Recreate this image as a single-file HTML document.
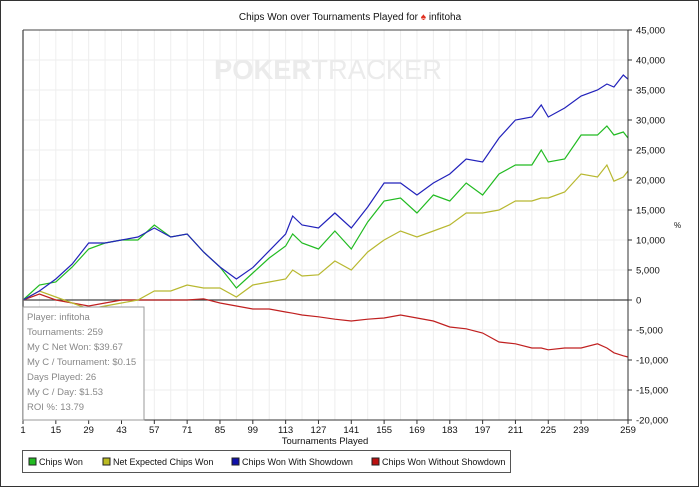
<!DOCTYPE html>
<html><head><meta charset="utf-8"><style>
body{margin:0;background:#fff;}
svg text{font-family:"Liberation Sans",Arial,sans-serif;}
</style></head><body>
<svg id="chart" width="700" height="488" xmlns="http://www.w3.org/2000/svg">
<rect x="0.5" y="0.5" width="698" height="486" fill="#fff" stroke="#333"/>
<text x="350" y="20" font-size="10" text-anchor="middle" fill="#111">Chips Won over Tournaments Played for <tspan fill="#e03020">♠</tspan> infitoha</text>
<g id="grid"></g>
<text x="328" y="79" font-size="28" font-weight="bold" text-anchor="middle" fill="#ebebeb" textLength="228" lengthAdjust="spacingAndGlyphs">POKER<tspan font-weight="normal">TRACKER</tspan></text>
<g id="series"></g>
<g id="axes"></g>
<text x="674" y="228" font-size="8" fill="#111">%</text>
<text x="325" y="444" font-size="9.5" text-anchor="middle" fill="#111">Tournaments Played</text>
<g>
<rect x="23" y="307" width="121" height="113" fill="#fff" stroke="#999"/>
<g font-size="9.5" fill="#888">
<text x="27" y="320">Player: infitoha</text>
<text x="27" y="335">Tournaments: 259</text>
<text x="27" y="350">My C Net Won: $39.67</text>
<text x="27" y="365">My C / Tournament: $0.15</text>
<text x="27" y="380">Days Played: 26</text>
<text x="27" y="395">My C / Day: $1.53</text>
<text x="27" y="410">ROI %: 13.79</text>
</g></g>
<g>
<rect x="22.5" y="450.5" width="488" height="22" fill="#fff" stroke="#555"/>
<g font-size="9" fill="#111">
<g><rect x="29" y="458" width="7" height="7" fill="#22bb22" stroke="#222"/><text x="39" y="465">Chips Won</text></g>
<g><rect x="103" y="458" width="7" height="7" fill="#bbbb22" stroke="#222"/><text x="113" y="465">Net Expected Chips Won</text></g>
<g><rect x="232" y="458" width="7" height="7" fill="#1111aa" stroke="#222"/><text x="242" y="465">Chips Won With Showdown</text></g>
<g><rect x="372" y="458" width="7" height="7" fill="#bb1111" stroke="#222"/><text x="382" y="465">Chips Won Without Showdown</text></g>
</g></g>
</svg>
<script>
const tournaments=[1,8,15,22,29,36,43,50,57,64,71,78,85,92,99,106,113,116,120,127,134,141,148,155,162,169,176,183,190,197,204,211,218,222,225,232,239,246,250,253,257,259];
const withShowdown=[0,1.5,3.5,6,9.5,9.5,10,10.5,12,10.5,11,8,5.5,3.5,5.4,8.2,11,14,12.5,12,14.5,12,15.5,19.5,19.5,17.5,19.5,21,23.5,23,27,30,30.5,32.5,30.5,32,34,35,36,35.5,37.5,36.8];
const chipsWon=[0,2.5,3,5.5,8.5,9.5,10,10,12.5,10.5,11,8,5.5,2,4.5,7,9,11,9.5,8.5,11.5,8.5,13,16.5,17,14.5,17.5,16.5,19.5,17.5,21,22.5,22.5,25,23,23.5,27.5,27.5,29,27.5,28,27];
const netExpected=[0,1.5,0.5,-0.5,-1.5,-1,-0.5,0,1.5,1.5,2.5,2,2,0.5,2.5,3,3.5,5,4,4.2,6.5,5,8,10,11.5,10.5,11.5,12.5,14.5,14.5,15,16.5,16.5,17,17,18,21,20.5,22.5,19.8,20.5,21.5];
const withoutShowdown=[0,1,0,-0.5,-1,-0.5,0,0,0,0,0,0.2,-0.5,-1,-1.5,-1.5,-2,-2.2,-2.5,-2.8,-3.2,-3.5,-3.2,-3,-2.5,-3,-3.5,-4.5,-4.8,-5.5,-7,-7.3,-8,-8,-8.3,-8,-8,-7.3,-8,-8.8,-9.3,-9.5];
const xTicks=[1,15,29,43,57,71,85,99,113,127,141,155,169,183,197,211,225,239,259];
const yTicks=[45,40,35,30,25,20,15,10,5,0,-5,-10,-15,-20];
const X0=23,X1=628,Y0=30,Y1=420;
const xs=t=>X0+(t-1)/(259-1)*(X1-X0);
const ys=v=>Y0+(45-v)/(65)*(Y1-Y0);
const NS="http://www.w3.org/2000/svg";
function mk(tag,attrs,parent){const e=document.createElementNS(NS,tag);for(const k in attrs)e.setAttribute(k,attrs[k]);parent.appendChild(e);return e;}
const grid=document.getElementById('grid'),axes=document.getElementById('axes'),ser=document.getElementById('series');
for(let t=1;t<=259;t+=7){const g=mk('line',{x1:xs(t),x2:xs(t),y1:Y0,y2:Y1,stroke:'#eeeeee'},grid);

}
yTicks.forEach(v=>{const g=mk('line',{x1:X0,x2:X1,y1:ys(v),y2:ys(v),stroke:v===0?'#444':'#eeeeee','stroke-width':v===0?1.3:1},grid);


const tk=mk('line',{x1:X1,x2:X1+4,y1:ys(v),y2:ys(v),stroke:'#333'},axes);


const lb=mk('text',{x:X1+8,y:ys(v)+3.5,'font-size':9.5,fill:'#111'},axes);
lb.textContent=(v*1000).toLocaleString('en-US');

});
mk('line',{x1:X0,x2:X0,y1:Y0,y2:Y1,stroke:'#666','stroke-width':1.5},axes);
mk('line',{x1:X0,x2:X1,y1:Y0,y2:Y0,stroke:'#444'},axes);
mk('line',{x1:X1,x2:X1,y1:Y0,y2:Y1,stroke:'#333'},axes);
mk('line',{x1:X0,x2:X1,y1:Y1,y2:Y1,stroke:'#333'},axes);
xTicks.forEach(t=>{const tk=mk('line',{x1:xs(t),x2:xs(t),y1:Y1,y2:Y1+4,stroke:'#333'},axes);


const lb=mk('text',{x:xs(t),y:Y1+13,'font-size':9.5,'text-anchor':'middle',fill:'#111'},axes);
lb.textContent=t;

});
function line(vals,color,name){const p=mk('polyline',{points:vals.map((v,i)=>xs(tournaments[i])+','+ys(v)).join(' '),fill:'none',stroke:color,'stroke-width':1.2},ser);

}
line(withoutShowdown,'#c02020','series-without-showdown');
line(netExpected,'#b8b830','series-net-expected');
line(chipsWon,'#22bb22','series-chips-won');
line(withShowdown,'#2222bb','series-with-showdown');
</script>
</body></html>
